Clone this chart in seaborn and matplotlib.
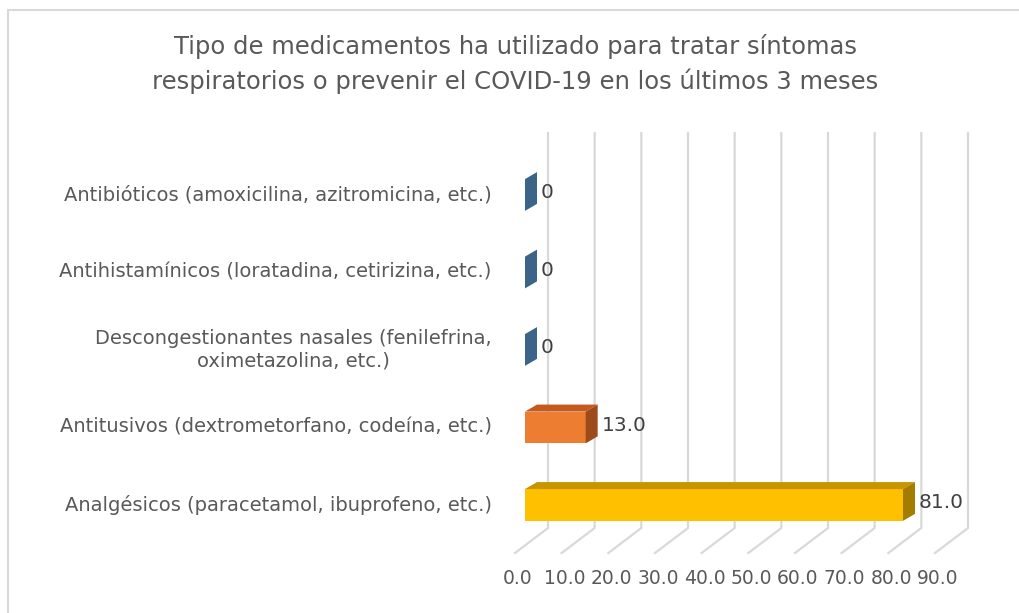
import matplotlib
matplotlib.use("Agg")
import matplotlib.pyplot as plt
import seaborn as sns
from matplotlib.patches import Polygon, Rectangle

categories = [
    "Antibióticos (amoxicilina, azitromicina, etc.)",
    "Antihistamínicos (loratadina, cetirizina, etc.)",
    "Descongestionantes nasales (fenilefrina,\noximetazolina, etc.)",
    "Antitusivos (dextrometorfano, codeína, etc.)",
    "Analgésicos (paracetamol, ibuprofeno, etc.)",
]
values = [0, 0, 0, 13.0, 81.0]
value_labels = ["0", "0", "0", "13.0", "81.0"]
front_colors = ["#3C6488", "#3C6488", "#3C6488", "#ED7D31", "#FFC000"]
top_colors = ["#3C6488", "#3C6488", "#3C6488", "#C55A1F", "#C69500"]
side_colors = ["#3C6488", "#3C6488", "#3C6488", "#9E4B1C", "#A37C00"]
ticks = [0, 10, 20, 30, 40, 50, 60, 70, 80, 90]

W, H = 1019, 613
fig = plt.figure(figsize=(W / 100, H / 100), dpi=100)
fig.patches.append(Rectangle((8 / W, -0.1), 1.2, 1 - 10 / H + 0.1, transform=fig.transFigure,
                             fill=False, edgecolor="#D9D9D9", linewidth=1.5))

ax = fig.add_axes([525 / W, 1 - 553 / H, 420 / W, 420 / H])
sns.barplot(x=values, y=categories, hue=categories, palette=front_colors, orient="h",
            width=0.41, saturation=1, legend=False, ax=ax, zorder=3)
ax.set_xlim(0, 90)
ax.set_ylim(4.62, -0.8)
for s in ax.spines.values():
    s.set_visible(False)
ax.set_xticks([])
ax.set_ylabel("")
ax.tick_params(axis="y", length=0, pad=24, labelsize=14, labelcolor="#595959")
for lab in ax.get_yticklabels():
    lab.set_multialignment("center")
    lab.set_va("center")

inv = ax.transData.inverted()


def px(x, y):
    # pixel position measured from the top-left of the figure -> data coords
    return inv.transform((x, H - y))


def to_px(xd, yd):
    dx, dy = ax.transData.transform((xd, yd))
    return dx, H - dy


# back wall gridlines and floor lines
for t in ticks:
    fx = to_px(t, 0)[0]
    pts = [px(fx + 23, 133), px(fx + 23, 528), px(fx - 10, 553)]
    ax.plot([p[0] for p in pts], [p[1] for p in pts], color="#D9D9D9", lw=1.6,
            zorder=1, clip_on=False)
    lx, ly = px(fx - 7, 578)
    ax.text(lx, ly, f"{t:.1f}", ha="center", va="center", fontsize=13.5,
            color="#595959", clip_on=False)

# 3D depth on bars
ddx, ddy = 12, -7
for i, bar in enumerate(ax.patches):
    bx, by = bar.get_x(), bar.get_y()
    bw, bh = bar.get_width(), bar.get_height()
    lft, top = to_px(bx, by)
    rgt, bot = to_px(bx + bw, by + bh)
    top_face = [px(lft, top), px(rgt, top), px(rgt + ddx, top + ddy), px(lft + ddx, top + ddy)]
    side_face = [px(rgt, bot), px(rgt, top), px(rgt + ddx, top + ddy), px(rgt + ddx, bot + ddy)]
    if bw > 0:
        ax.add_patch(Polygon(top_face, closed=True, facecolor=top_colors[i],
                             edgecolor="none", zorder=3, clip_on=False))
    ax.add_patch(Polygon(side_face, closed=True, facecolor=side_colors[i],
                         edgecolor="none", zorder=3, clip_on=False))
    tx, ty = px(rgt + ddx + 4, (top + bot) / 2 - 2)
    ax.text(tx, ty, value_labels[i], ha="left", va="center", fontsize=14.5,
            color="#404040", clip_on=False)

fig.text(515 / W, 1 - 64 / H,
         "Tipo de medicamentos ha utilizado para tratar síntomas\n"
         "respiratorios o prevenir el COVID-19 en los últimos 3 meses",
         ha="center", va="center", fontsize=17.5, color="#595959", linespacing=1.5)

fig.savefig("out.png", dpi=100)
